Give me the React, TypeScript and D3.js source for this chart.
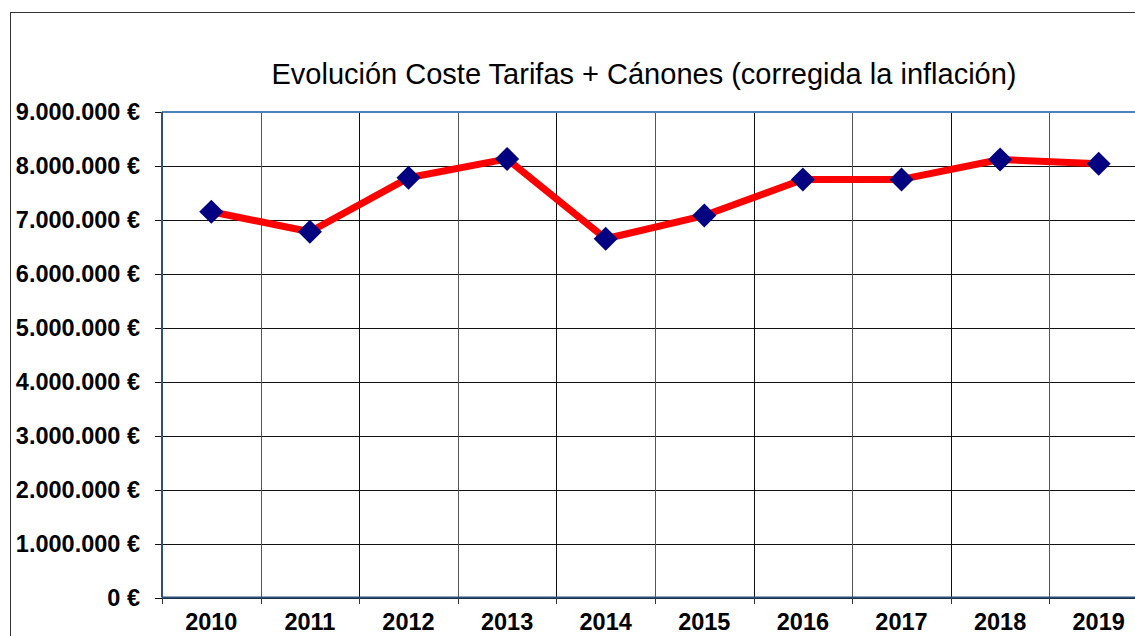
import React from 'react';
import * as d3 from 'd3';

const years = ['2010', '2011', '2012', '2013', '2014', '2015', '2016', '2017', '2018', '2019'];
const costs = [7150000, 6780000, 7780000, 8130000, 6650000, 7080000, 7750000, 7750000, 8120000, 8040000];
const yTicks = [0, 1000000, 2000000, 3000000, 4000000, 5000000, 6000000, 7000000, 8000000, 9000000];

const W = 1135;
const H = 636;
const margin = { left: 162, top: 112, right: 1148, bottom: 597.5 };

const fmt = (v: number) => {
  const s = d3.format(',')(v).replace(/,/g, '.');
  return `${s} €`;
};

export default function App() {
  const x = d3.scaleBand<string>().domain(years).range([margin.left, margin.right]);
  const y = d3.scaleLinear().domain([0, 9000000]).range([margin.bottom, margin.top]);
  const cx = (d: string) => (x(d) ?? 0) + x.bandwidth() / 2;

  const line = d3
    .line<number>()
    .x((_, i) => cx(years[i]))
    .y((d) => y(d));

  const gridX = years.map((d) => x(d) ?? 0).concat([margin.right]);
  const font = 'Arial, "Liberation Sans", sans-serif';

  return (
    <svg width={W} height={H} style={{ position: 'absolute', left: 0, top: 0, background: '#fff' }}>
      {/* outer chart frame */}
      <rect x={10.5} y={12.5} width={W + 20} height={H + 20} fill="#fff" stroke="#333" strokeWidth={1} />

      <text x={644} y={84} textAnchor="middle" fontFamily={font} fontSize={29} fill="#000">
        Evolución Coste Tarifas + Cánones (corregida la inflación)
      </text>

      {/* horizontal gridlines */}
      {yTicks.map((t) => (
        <g key={t}>
          <line x1={margin.left} x2={margin.right} y1={Math.round(y(t)) + 0.5} y2={Math.round(y(t)) + 0.5} stroke="#111" strokeWidth={1} />
          <line x1={155} x2={margin.left} y1={Math.round(y(t)) + 0.5} y2={Math.round(y(t)) + 0.5} stroke="#111" strokeWidth={1} />
          <text x={140} y={y(t)} dy="0.36em" textAnchor="end" fontFamily={font} fontSize={23.5} fontWeight="bold" fill="#000">
            {fmt(t)}
          </text>
        </g>
      ))}

      {/* vertical gridlines */}
      {gridX.map((gx, i) => (
        <g key={i}>
          <line x1={Math.round(gx) + 0.5} x2={Math.round(gx) + 0.5} y1={margin.top} y2={margin.bottom} stroke={i % 2 ? '#555' : '#111'} strokeWidth={1} />
          <line x1={Math.round(gx) + 0.5} x2={Math.round(gx) + 0.5} y1={margin.bottom} y2={604} stroke="#333" strokeWidth={1} />
        </g>
      ))}

      {/* plot border */}
      <line x1={margin.left} x2={margin.right} y1={margin.top} y2={margin.top} stroke="#4f81bd" strokeWidth={2} />
      <line x1={margin.left} x2={margin.left} y1={margin.top} y2={margin.bottom} stroke="#2b4f7e" strokeWidth={2} />
      <line x1={margin.left} x2={margin.right} y1={margin.bottom} y2={margin.bottom} stroke="#2b4f7e" strokeWidth={2} />

      {years.map((d) => (
        <text key={d} x={cx(d)} y={630} textAnchor="middle" fontFamily={font} fontSize={23.5} fontWeight="bold" fill="#000">
          {d}
        </text>
      ))}

      <path d={line(costs) ?? ''} fill="none" stroke="#ff0000" strokeWidth={7} strokeLinejoin="round" />

      {costs.map((v, i) => (
        <rect
          key={i}
          x={-8.5}
          y={-8.5}
          width={17}
          height={17}
          fill="#000080"
          transform={`translate(${cx(years[i])},${y(v)}) rotate(45)`}
        />
      ))}
    </svg>
  );
}
